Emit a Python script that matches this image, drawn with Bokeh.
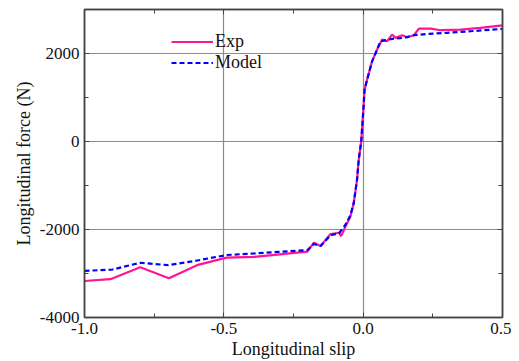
from bokeh.plotting import figure
from bokeh.models import FixedTicker, LinearAxis, Range1d, Legend, LegendItem
from bokeh.embed import file_html
from bokeh.resources import INLINE

exp_slip = [-1.0, -0.907, -0.80, -0.697, -0.596, -0.49, -0.39, -0.20, -0.177, -0.153,
            -0.117, -0.087, -0.079, -0.064, -0.046, -0.034, -0.022, -0.016, -0.007, 0.0,
            0.005, 0.014, 0.032, 0.050, 0.068, 0.086, 0.104, 0.116, 0.140, 0.158,
            0.182, 0.20, 0.242, 0.278, 0.35, 0.42, 0.5]
exp_force = [-3170, -3130, -2860, -3110, -2810, -2640, -2620, -2505, -2300, -2376,
             -2103, -2073, -2148, -1936, -1708, -1405, -872, -417, 0, 647,
             1178, 1405, 1822, 2089, 2317, 2278, 2430, 2355, 2415, 2370,
             2415, 2567, 2567, 2529, 2544, 2583, 2640]

model_slip = [-1.0, -0.9, -0.8, -0.7, -0.6, -0.49, -0.39, -0.2, -0.177, -0.153,
              -0.117, -0.087, -0.064, -0.046, -0.034, -0.022, -0.016, -0.007, 0.0, 0.005,
              0.014, 0.032, 0.050, 0.062, 0.110, 0.146, 0.182, 0.23, 0.30, 0.385, 0.5]
model_force = [-2940, -2910, -2756, -2810, -2710, -2580, -2543, -2467, -2330, -2376,
               -2130, -2087, -1897, -1680, -1405, -872, -417, 0, 647, 1178,
               1405, 1822, 2089, 2278, 2339, 2355, 2415, 2446, 2469, 2506, 2560]

x_major = [-1.0, -0.5, 0.0, 0.5]
x_minor = [-0.75, -0.25, 0.25]
x_labels = {-1.0: "-1.0", -0.5: "-0.5", 0.0: "0.0", 0.5: "0.5"}
y_major = [-4000, -2000, 0, 2000]
y_minor = [-3000, -1000, 1000]
y_labels = {-4000: "-4000", -2000: "-2000", 0: "0", 2000: "2000"}

FONT = "Liberation Serif"
FRAME = "#444444"

p = figure(width=511, height=361, output_backend="svg", toolbar_location=None,
           x_range=Range1d(-1.0, 0.5), y_range=Range1d(-4000, 3000),
           min_border_left=84, min_border_right=9, min_border_top=9, min_border_bottom=44)
p.outline_line_color = FRAME
p.outline_line_width = 1.5

def style_axis(ax, labels=True):
    ax.axis_line_color = FRAME
    ax.axis_line_width = 1.5
    ax.major_tick_in = 5
    ax.major_tick_out = 0
    ax.minor_tick_in = 4
    ax.minor_tick_out = 0
    ax.major_tick_line_color = FRAME
    ax.minor_tick_line_color = FRAME
    ax.major_label_text_font = FONT
    ax.major_label_text_font_size = "17px"
    ax.major_label_text_color = "#111111"
    ax.axis_label_text_font = FONT
    ax.axis_label_text_font_size = "18px"
    ax.axis_label_text_font_style = "normal"
    ax.axis_label_text_color = "#111111"
    if not labels:
        ax.major_label_text_font_size = "1px"
        ax.major_label_text_color = None
        ax.major_label_standoff = 0

xt = FixedTicker(ticks=x_major, minor_ticks=x_minor)
yt = FixedTicker(ticks=y_major, minor_ticks=y_minor)

p.xaxis.ticker = xt
p.yaxis.ticker = yt
p.xaxis.major_label_overrides = x_labels
p.yaxis.major_label_overrides = y_labels
style_axis(p.xaxis[0])
style_axis(p.yaxis[0])
p.xaxis.axis_label = "Longitudinal slip"
p.yaxis.axis_label = "Longitudinal force (N)"
p.xaxis.major_label_standoff = 5
p.yaxis.major_label_standoff = 5
p.xaxis.axis_label_standoff = 2
p.yaxis.axis_label_standoff = 3

top = LinearAxis(ticker=FixedTicker(ticks=x_major, minor_ticks=x_minor))
style_axis(top, labels=False)
p.add_layout(top, "above")
right = LinearAxis(ticker=FixedTicker(ticks=y_major, minor_ticks=y_minor))
style_axis(right, labels=False)
p.add_layout(right, "right")

p.xgrid.ticker = xt
p.ygrid.ticker = yt
p.xgrid.grid_line_color = "#8c8c8c"
p.ygrid.grid_line_color = "#8c8c8c"
p.xgrid.grid_line_width = 1.2
p.ygrid.grid_line_width = 1.2

r_exp = p.line(exp_slip, exp_force, line_color="#ff1493", line_width=2.2)
r_mod = p.line(model_slip, model_force, line_color="#0000ff", line_width=2.2, line_dash="5 3")

legend = Legend(items=[LegendItem(label="Exp", renderers=[r_exp]),
                       LegendItem(label="Model", renderers=[r_mod])],
                location=(87, 244), padding=0, margin=0, spacing=0,
                glyph_width=42, glyph_height=19, label_height=19, label_standoff=2,
                label_text_font=FONT, label_text_font_size="18px",
                label_text_color="#111111",
                border_line_color=None, background_fill_alpha=0)
p.add_layout(legend, "center")

open("out.html", "w").write(file_html(p, INLINE))
